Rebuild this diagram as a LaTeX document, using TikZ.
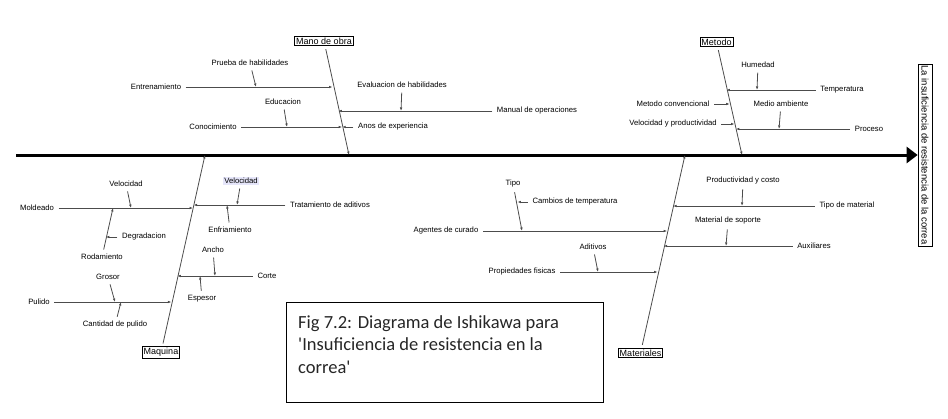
\documentclass[tikz,border=0pt]{standalone}
\usepackage{fontspec}
\setmainfont{Liberation Sans}
\newfontfamily\capfont{Carlito}
\usetikzlibrary{arrows.meta}
\definecolor{hilite}{RGB}{230,230,250}

\tikzset{
  cause/.style={font=\fontsize{7.7}{9}\selectfont, inner sep=1.5pt},
  catbox/.style={draw, font=\fontsize{9}{10.5}\selectfont, inner sep=1.5pt, line width=0.7pt},
  bone/.style={line width=0.8pt, draw=black!70, shorten <=3pt, -{Latex[length=3.5pt,width=2.6pt]}},
  spine/.style={line width=3pt, -{Triangle[length=11pt,width=16pt]}},
}

\begin{document}
\begin{tikzpicture}[x=1pt,y=-1pt]
  \useasboundingbox (0,0) rectangle (948,418);

  % spine and effect
  \coordinate (tail) at (16,155);
  \node[catbox, rotate=-90, font=\fontsize{9.5}{11}\selectfont, minimum height=14pt] (effect) at (925,155) {La insuficiencia de resistencia de la correa};
  \draw[spine] (tail) -- (effect);

  % category boxes and where the ribs meet the spine
  \node[catbox] (mano) at (324,41) {Mano de obra};
  \node[catbox] (metodo) at (716.5,42) {Metodo};
  \node[catbox] (maq) at (161,352.5) {Maquina};
  \node[catbox] (mat) at (640.5,353) {Materiales};
  \coordinate (manoS) at (349,155);
  \coordinate (metS) at (742,155);
  \coordinate (maqN) at (205,155);
  \coordinate (matN) at (685,155);

  % Mano de obra
  \coordinate (m1) at (332.5,87);
  \coordinate (m2) at (338.3,111);
  \coordinate (m3) at (342.2,127);
  \coordinate (m1a) at (256,87);
  \coordinate (m2a) at (401,111);
  \coordinate (m3a) at (287,127);
  \node[cause] (entren) at (156,87) {Entrenamiento};
  \node[cause] (prueba) at (250,63) {Prueba de habilidades};
  \node[cause] (evalhab) at (402,85) {Evaluacion de habilidades};
  \node[cause] (manual) at (537,111) {Manual de operaciones};
  \node[cause] (educ) at (283,102) {Educacion};
  \node[cause] (conoc) at (213,127) {Conocimiento};
  \node[cause] (anos) at (393,127) {Anos de experiencia};

  % Metodo
  \coordinate (t1) at (726.4,90);
  \coordinate (t2) at (729.7,104);
  \coordinate (t3) at (734.5,124);
  \coordinate (t4) at (735.8,129);
  \coordinate (t1a) at (757,90);
  \coordinate (t4a) at (779,129);
  \node[cause] (humedad) at (758,65) {Humedad};
  \node[cause] (temp) at (842,90) {Temperatura};
  \node[cause] (metconv) at (673,104) {Metodo convencional};
  \node[cause] (medio) at (781,104) {Medio ambiente};
  \node[cause] (velprod) at (673,124) {Velocidad y productividad};
  \node[cause] (proceso) at (869,129) {Proceso};

  % Maquina
  \coordinate (q1) at (193,208);
  \coordinate (q2) at (193.6,205);
  \coordinate (q3) at (177.3,276);
  \coordinate (q4) at (171.4,302);
  \coordinate (q1a) at (131,208);
  \coordinate (q1b) at (113,208);
  \coordinate (r1) at (105.8,237);
  \coordinate (q2a) at (237,205);
  \coordinate (q2b) at (227,205);
  \coordinate (q3a) at (215,276);
  \coordinate (q3b) at (200,276);
  \coordinate (q4a) at (115,302);
  \coordinate (q4b) at (121,302);
  \node[cause] (moldeado) at (37,208) {Moldeado};
  \node[cause] (vel1) at (126,184) {Velocidad};
  \node[cause] (rodam) at (102,257) {Rodamiento};
  \node[cause] (degrad) at (144,237) {Degradacion};
  \node[cause] (trat) at (330,205) {Tratamiento de aditivos};
  \node[cause, fill=hilite] (vel2) at (241,181) {Velocidad};
  \node[cause] (enfr) at (230,230) {Enfriamiento};
  \node[cause] (ancho) at (213,250) {Ancho};
  \node[cause] (corte) at (267,276) {Corte};
  \node[cause] (espesor) at (202,299) {Espesor};
  \node[cause] (pulido) at (39,302) {Pulido};
  \node[cause] (grosor) at (108,277) {Grosor};
  \node[cause] (cantidad) at (115,325) {Cantidad de pulido};

  % Materiales
  \coordinate (a1) at (673.1,206);
  \coordinate (a2) at (667.2,231);
  \coordinate (a3) at (663.7,246);
  \coordinate (a4) at (657.6,272);
  \coordinate (a1a) at (742,206);
  \coordinate (a2a) at (522,231);
  \coordinate (tipoP) at (517.4,202);
  \coordinate (a3a) at (726,246);
  \coordinate (a4a) at (598,272);
  \node[cause] (tipomat) at (847,206) {Tipo de material};
  \node[cause] (prodcost) at (743,181) {Productividad y costo};
  \node[cause] (agentes) at (446,231) {Agentes de curado};
  \node[cause] (tipo) at (513,184) {Tipo};
  \node[cause] (cambios) at (575,202) {Cambios de temperatura};
  \node[cause] (aux) at (814,246) {Auxiliares};
  \node[cause] (matsop) at (728,221) {Material de soporte};
  \node[cause] (propfis) at (522,272) {Propiedades fisicas};
  \node[cause] (aditivos) at (593,247) {Aditivos};

  % all the bones
  \foreach \from/\to in {mano/manoS, metodo/metS, maq/maqN, mat/matN,
      entren/m1, prueba/m1a, evalhab/m2a, manual/m2, educ/m3a, conoc/m3, anos/m3,
      humedad/t1a, temp/t1, metconv/t2, medio/t4a, velprod/t3, proceso/t4,
      moldeado/q1, vel1/q1a, rodam/q1b, degrad/r1, trat/q2, vel2/q2a, enfr/q2b,
      ancho/q3a, corte/q3, espesor/q3b, pulido/q4, grosor/q4a, cantidad/q4b,
      tipomat/a1, prodcost/a1a, agentes/a2, tipo/a2a, cambios/tipoP,
      aux/a3, matsop/a3a, propfis/a4, aditivos/a4a}
    \draw[bone] (\from) -- (\to);

  % caption
  \node[draw, line width=1pt, minimum width=317pt, minimum height=100pt, anchor=north west, inner sep=0pt] (capbox) at (286,302) {};
  \node[anchor=north west, align=left, inner sep=0pt, text=black!85,
        font=\capfont\fontsize{18.5}{22.5}\selectfont] (caption) at (298,315)
    {Fig 7.2: Diagrama de Ishikawa para\\\textquotesingle Insuficiencia de resistencia en la\\correa\textquotesingle};
\end{tikzpicture}
\end{document}
